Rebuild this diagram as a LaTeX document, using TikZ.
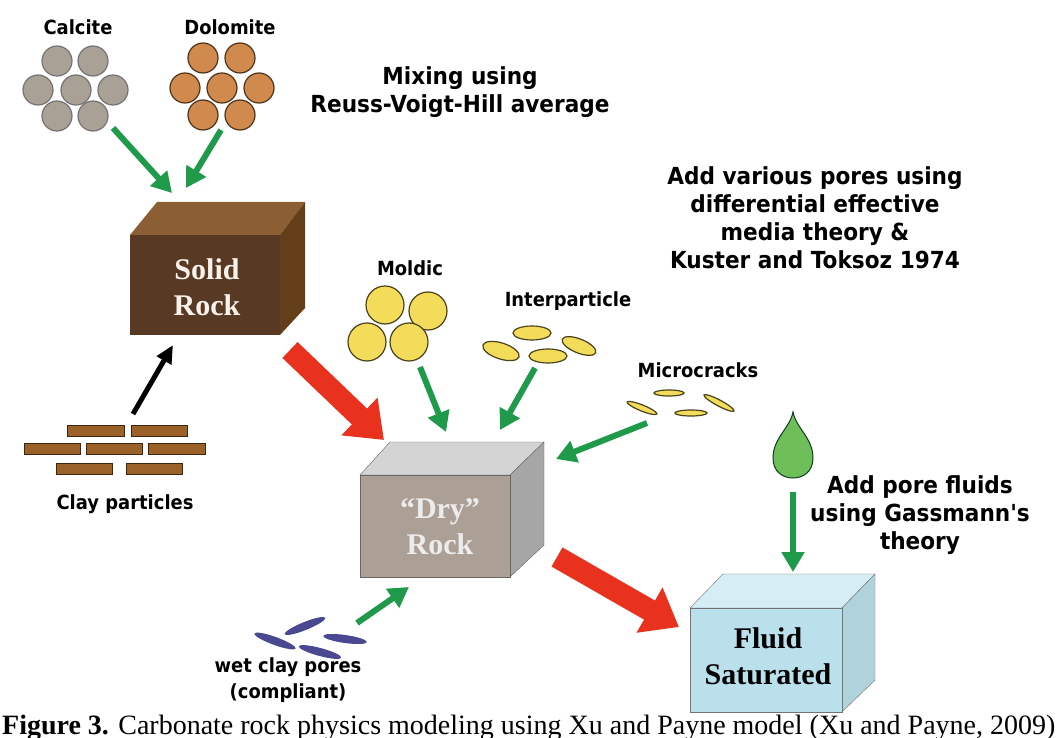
\documentclass[tikz,border=0pt]{standalone}
\usepackage{fontspec}
\setmainfont{Liberation Serif}
\newfontfamily\lab{DejaVu Sans}[FakeStretch=0.92]
\usetikzlibrary{arrows.meta,calc}
\definecolor{grn}{HTML}{1E9A4A}
\definecolor{rd}{HTML}{E8321E}
\definecolor{calc}{HTML}{A9A096}
\definecolor{dolo}{HTML}{D08A4E}
\definecolor{ylw}{HTML}{F2DC5A}
\definecolor{brick}{HTML}{9A6228}
\definecolor{wet}{HTML}{4A4890}
\tikzset{
 lbl/.style={font=\lab\bfseries\fontsize{19.5}{26}\selectfont, align=center},
 big/.style={font=\lab\bfseries\fontsize{23.5}{28}\selectfont, align=center},
 boxt/.style={font=\bfseries\fontsize{30}{36}\selectfont, align=center},
 garr/.style={grn, line width=6pt, -{Triangle[width=22pt,length=20pt]}},
 rarr/.style={rd, line width=22pt, -{Triangle[width=50pt,length=34pt]}, draw=rd},
 karr/.style={black, line width=5pt, -{Triangle[width=16pt,length=18pt]}},
 grain/.style={line width=1.2pt},
 pore/.style={draw=black!70!ylw, fill=ylw, line width=1.2pt},
}
\begin{document}
\begin{tikzpicture}[x=1pt,y=-1pt]
\useasboundingbox (0,0) rectangle (1058,738);
\clip (0,0) rectangle (1058,738);
\node[lbl] (calt) at (78,27) {Calcite};
\node[lbl] (dolt) at (230,27) {Dolomite};
\foreach \p in {(57,61),(93,61),(38,90),(76,90),(113,90),(57,116),(93,116)}
  \draw[grain, draw=black!55, fill=calc] \p circle (15);
\foreach \p in {(203,58),(240,58),(185,88),(222,88),(259,88),(203,115),(240,115)}
  \draw[grain, draw=black!60!brown, fill=dolo] \p circle (15);
\node[big] (mix) at (460,92) {Mixing using\\Reuss-Voigt-Hill average};
\node[big] (pores) at (815,218) {Add various pores using\\differential effective\\media theory \&\\Kuster and Toksoz 1974};
\node[big] (fluids) at (920,515) {Add pore fluids\\using Gassmann's\\theory};
\fill[fill={rgb,255:red,139;green,94;blue,52}] (130,235) -- (157,202) -- (305,202) -- (280,235) -- cycle;
\fill[fill={rgb,255:red,100;green,62;blue,24}] (280,235) -- (305,202) -- (305,308) -- (280,335) -- cycle;
\fill[fill={rgb,255:red,88;green,58;blue,36}] (130,235) rectangle (280,335);
\node[boxt, text=white!90!brown] (solid) at (207,287) {Solid\\Rock};
\draw[black!60, fill=black!17] (360,475) -- (390,442) -- (544,442) -- (510,475) -- cycle;
\draw[black!60, fill=black!35] (510,475) -- (544,442) -- (544,545) -- (510,577) -- cycle;
\draw[black!60, fill={rgb,255:red,172;green,160;blue,150}] (360,475) rectangle (510,577);
\node[boxt, text=white!85!gray] (dry) at (440,527) {``Dry''\\Rock};
\draw[black!55, fill={rgb,255:red,214;green,238;blue,243}] (690,608) -- (723,574) -- (875,574) -- (842,608) -- cycle;
\draw[black!55, fill={rgb,255:red,176;green,210;blue,218}] (842,608) -- (875,574) -- (875,680) -- (842,712) -- cycle;
\draw[black!55, fill={rgb,255:red,186;green,224;blue,236}] (690,608) rectangle (842,712);
\node[boxt] (fluid) at (768,656) {Fluid\\Saturated};
\node[lbl] (moldt) at (410,268) {Moldic};
\foreach \p in {(385,305),(428,311),(367,342),(409,342)} \draw[pore] \p circle (19);
\node[lbl] (intt) at (568,301) {Interparticle};
\draw[pore] (532,333) ellipse (19 and 7);
\draw[pore, rotate around={-18:(501,351)}] (501,351) ellipse (19 and 8);
\draw[pore] (548,356) ellipse (19 and 7);
\draw[pore, rotate around={-22:(579,346)}] (579,346) ellipse (18 and 7);
\node[lbl] (mict) at (698,370) {Microcracks};
\draw[pore] (669,393) ellipse (15 and 3);
\draw[pore, rotate around={-22:(642,408)}] (642,408) ellipse (16 and 3);
\draw[pore] (691,413) ellipse (16 and 3);
\draw[pore, rotate around={-28:(719,403)}] (719,403) ellipse (17 and 3);
\draw[black!60!grn, fill={rgb,255:red,110;green,190;blue,90}, line width=1pt]
  (793,412) .. controls (796,428) and (813,438) .. (813,458)
  .. controls (813,472) and (803,478) .. (793,478)
  .. controls (783,478) and (773,472) .. (773,458)
  .. controls (773,438) and (790,428) .. (793,412) -- cycle;
\foreach \a/\b/\c/\d in {67/425/124/436,131/425/187/436,24/443/80/454,86/443/142/454,148/443/205/454,56/463/112/474,126/463/182/474}
  \draw[black!60!brick, fill=brick, line width=1pt] (\a,\b) rectangle (\c,\d);
\node[lbl] (clayt) at (125,504) {Clay particles};
\foreach \x/\y/\r in {275/641/-20, 305/626/22, 320/652/-15, 345/639/-8}
  \fill[wet, rotate around={\r:(\x,\y)}] (\x,\y) ellipse (22 and 4);
\node[lbl, align=center] (wett) at (288,680) {wet clay pores\\(compliant)};
\coordinate (c1) at (113,128); \coordinate (c2) at (172,193);
\coordinate (d1) at (221,130); \coordinate (d2) at (186,188);
\coordinate (k1) at (133,414); \coordinate (k2) at (173,345);
\coordinate (m1) at (420,367); \coordinate (m2) at (446,432);
\coordinate (i1) at (535,368); \coordinate (i2) at (500,430);
\coordinate (r1) at (647,423); \coordinate (r2) at (556,459);
\coordinate (w1) at (357,623); \coordinate (w2) at (409,587);
\coordinate (g1) at (793,492); \coordinate (g2) at (793,572);
\coordinate (s1) at (290,350); \coordinate (s2) at (384,440);
\coordinate (t1) at (557,557); \coordinate (t2) at (679,627);
\draw[garr] (c1) -- (c2);
\draw[garr] (d1) -- (d2);
\draw[garr] (m1) -- (m2);
\draw[garr] (i1) -- (i2);
\draw[garr] (r1) -- (r2);
\draw[garr] (w1) -- (w2);
\draw[garr] (g1) -- (g2);
\draw[karr] (k1) -- (k2);
\draw[rarr] (s1) -- (s2);
\draw[rarr] (t1) -- (t2);
\node[anchor=base west, inner sep=0, font=\fontsize{28}{30}\selectfont] (cap) at (2,734)
 {\textbf{Figure 3.} Carbonate rock physics modeling using Xu and Payne model (Xu and Payne, 2009)};
\end{tikzpicture}
\end{document}
